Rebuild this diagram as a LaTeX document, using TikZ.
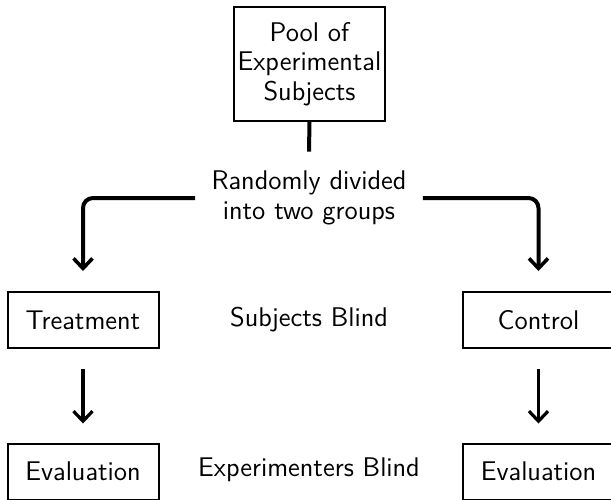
\documentclass[tikz,border=0pt]{standalone}
\usepackage{fontspec}
\usetikzlibrary{arrows.meta}
\begin{document}
\begin{tikzpicture}[x={(0.5pt,0)},y={(0,-0.5pt)},
  font=\sffamily\fontsize{13.5}{14.8}\selectfont,
  box/.style={draw,line width=1pt,minimum width=75.5pt,minimum height=28pt,inner sep=0pt,align=center},
  lbl/.style={align=center,inner sep=0pt},
  thickline/.style={line width=2pt},
  arr/.style={line width=1.6pt,-{Straight Barb[length=5pt,width=9.5pt,line width=1.6pt]}},
  arrtop/.style={line width=2pt,rounded corners=5pt,-{Straight Barb[length=5pt,width=9.5pt,line width=1.8pt]}}]
\useasboundingbox (0,0) rectangle (611,499);
\clip (0,0) rectangle (611,499);
\node[box,minimum height=57pt] (pool) at (309.5,64) {Pool of\\Experimental\\Subjects};
\node[lbl,inner xsep=8pt,inner ysep=0pt,minimum height=46pt] (rand) at (309,198) {Randomly divided\\into two groups};
\node[box] (treat) at (83,320) {Treatment};
\node[box] (ctrl) at (538.5,320) {Control};
\node[box] (eval1) at (83,471.5) {Evaluation};
\node[box] (eval2) at (538.5,471.5) {Evaluation};
\node[lbl] (sb) at (309,320) {Subjects Blind};
\node[lbl] (eb) at (309,470) {Experimenters Blind};
\draw[thickline] (pool.south) -- (rand.north);
\draw[arrtop,shorten >=10pt] (rand.west) -| (treat.north);
\draw[arrtop,shorten >=10pt] (rand.east) -| (ctrl.north);
\draw[arr,shorten <=10pt,shorten >=9.5pt] (treat.south) -- (eval1.north);
\draw[arr,shorten <=10pt,shorten >=9.5pt] (ctrl.south) -- (eval2.north);
\end{tikzpicture}
\end{document}
